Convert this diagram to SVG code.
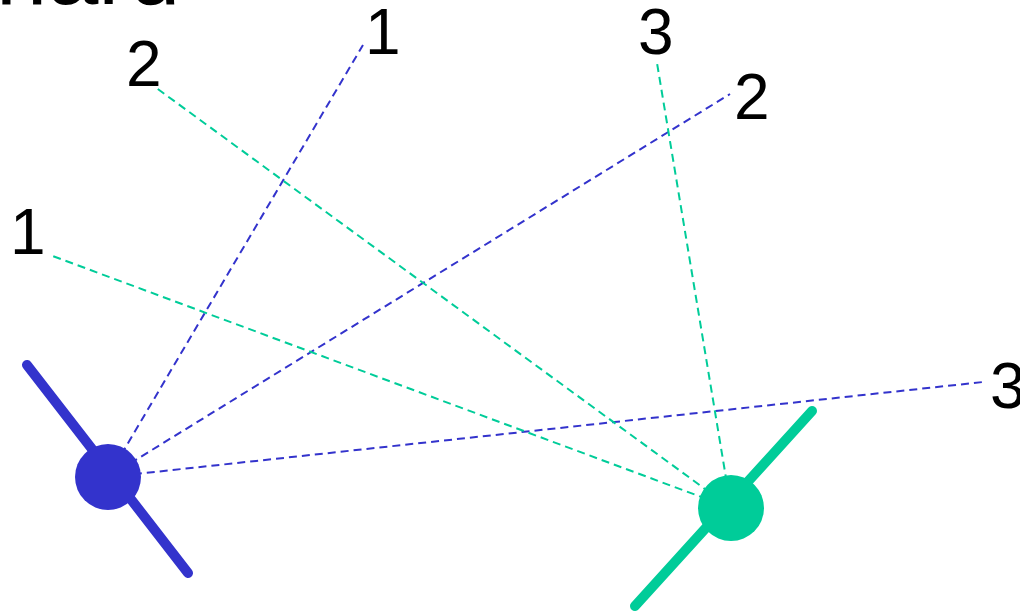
<svg xmlns="http://www.w3.org/2000/svg" width="1020" height="613" viewBox="0 0 1020 613">
<style>
.lbl{font-family:"Liberation Sans",Arial,sans-serif;font-size:64px;fill:#000}
.title{font-family:"Liberation Sans",Arial,sans-serif;font-size:92px;fill:#000}
.dash{fill:none;stroke-width:2;stroke-dasharray:8,5}
.blue{stroke:#3333cc}
.green{stroke:#00cc99}
.axis{fill:none;stroke-width:10;stroke-linecap:round}
</style>
<rect width="1020" height="613" fill="#fff"/>
<text class="title" x="-4" y="4">hard</text>
<g id="connectors">
<line class="dash blue" x1="108" y1="477" x2="363" y2="45"/>
<line class="dash blue" x1="108" y1="477" x2="730" y2="94"/>
<line class="dash blue" x1="108" y1="477" x2="983" y2="382"/>
<line class="dash green" x1="731" y1="508" x2="657" y2="63"/>
<line class="dash green" x1="731" y1="508" x2="155" y2="87"/>
<line class="dash green" x1="731" y1="508" x2="50" y2="255"/>
</g>
<g id="node-blue">
<line class="axis blue" x1="27" y1="365" x2="188" y2="573"/>
<circle cx="108" cy="477" r="33" fill="#3333cc"/>
</g>
<g id="node-green">
<line class="axis green" x1="812" y1="411" x2="635" y2="606"/>
<circle cx="731" cy="508" r="33" fill="#00cc99"/>
</g>
<g id="labels">
<text class="lbl" x="365" y="54">1</text>
<text class="lbl" x="734" y="119">2</text>
<text class="lbl" x="990" y="408">3</text>
<text class="lbl" x="10" y="254">1</text>
<text class="lbl" x="126" y="86">2</text>
<text class="lbl" x="638" y="54">3</text>
</g>
</svg>
